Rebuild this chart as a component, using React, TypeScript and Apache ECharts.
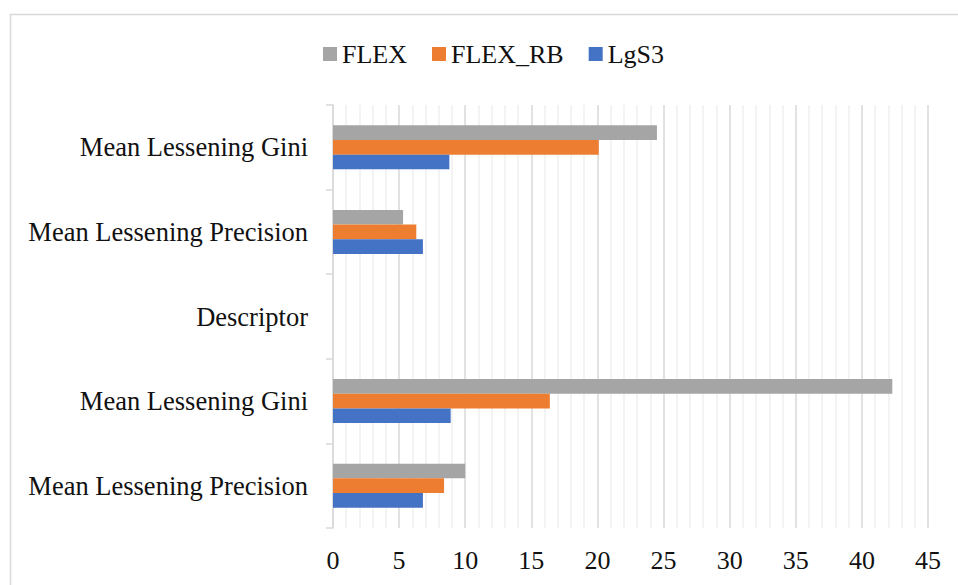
import React, { useEffect, useRef } from "react";
import * as echarts from "echarts";

const categories = [
  "Mean Lessening Precision",
  "Mean Lessening Gini",
  "Descriptor",
  "Mean Lessening Precision",
  "Mean Lessening Gini",
];
const flex = [10.0, 42.3, null, 5.3, 24.5];
const flexRB = [8.4, 16.4, null, 6.3, 20.1];
const lgs3 = [6.8, 8.9, null, 6.8, 8.8];
const seriesNames = ["FLEX", "FLEX_RB", "LgS3"];
const colors = ["#A5A5A5", "#ED7D31", "#4472C4"];

export default function App() {
  const ref = useRef<HTMLDivElement>(null);
  useEffect(() => {
    document.body.style.margin = "0";
    const chart = echarts.init(ref.current!, null, { renderer: "svg" });
    const font = "Liberation Serif";
    const data = [flex, flexRB, lgs3];
    chart.setOption({
      animation: false,
      textStyle: { fontFamily: font },
      graphic: [
        {
          type: "rect",
          shape: { x: 10.5, y: 14.5, width: 1000, height: 1000 },
          style: { fill: "none", stroke: "#d9d9d9", lineWidth: 1.5 },
          silent: true,
        },
      ],
      legend: {
        top: 36,
        left: 318,
        data: seriesNames,
        icon: "rect",
        itemWidth: 14,
        itemHeight: 14,
        itemGap: 25,
        itemStyle: { borderWidth: 0 },
        textStyle: { fontFamily: font, fontSize: 26, color: "#111" },
      },
      grid: { left: 333, top: 105, right: 30, bottom: 57, containLabel: false },
      xAxis: {
        type: "value",
        min: 0,
        max: 45,
        interval: 5,
        axisLine: { show: false },
        axisTick: { show: false },
        axisLabel: { fontFamily: font, fontSize: 26, color: "#111", margin: 19 },
        splitLine: { show: true, lineStyle: { color: "#d9d9d9", width: 1.5 } },
        minorTick: { show: false, splitNumber: 5 },
        minorSplitLine: { show: true, lineStyle: { color: "#efefef", width: 1.5 } },
      },
      yAxis: {
        type: "category",
        data: categories,
        axisLine: { show: true, lineStyle: { color: "#d9d9d9", width: 1.5 } },
        axisTick: { show: true, length: 7, lineStyle: { color: "#d9d9d9", width: 1.5 } },
        axisLabel: { fontFamily: font, fontSize: 26.5, color: "#111", margin: 25 },
        splitLine: { show: false },
      },
      series: seriesNames.map((name, i) => ({
        name,
        type: "bar",
        data: data[i],
        itemStyle: { color: colors[i] },
        barGap: "0%",
        barCategoryGap: "48%",
      })),
    });
    return () => chart.dispose();
  }, []);
  return <div ref={ref} style={{ width: 958, height: 585 }} />;
}
